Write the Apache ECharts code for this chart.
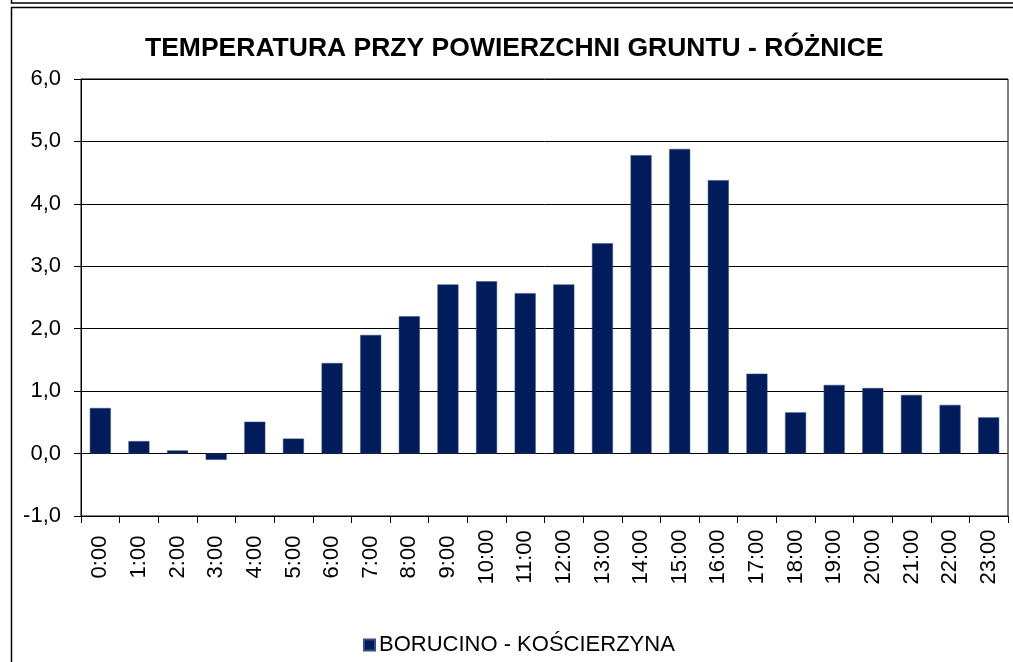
<!DOCTYPE html>
<html>
<head>
<meta charset="utf-8">
<script src="https://cdn.jsdelivr.net/npm/echarts@6/dist/echarts.min.js"></script>
<style>html,body{margin:0;padding:0;background:#fff;}#c{width:1013px;height:662px;}</style>
</head>
<body>
<div id="c"></div>
<script>
const categories = ['0:00','1:00','2:00','3:00','4:00','5:00','6:00','7:00','8:00','9:00','10:00','11:00','12:00','13:00','14:00','15:00','16:00','17:00','18:00','19:00','20:00','21:00','22:00','23:00'];
const values = [0.73, 0.20, 0.05, -0.10, 0.51, 0.24, 1.45, 1.90, 2.20, 2.71, 2.76, 2.57, 2.71, 3.37, 4.78, 4.88, 4.38, 1.28, 0.66, 1.10, 1.05, 0.94, 0.78, 0.58];
const seriesName = 'BORUCINO - KOŚCIERZYNA';
const titleText = 'TEMPERATURA PRZY POWIERZCHNI GRUNTU - RÓŻNICE';

const chart = echarts.init(document.getElementById('c'), null, {renderer: 'canvas'});
const font = 'Arial, "Liberation Sans", sans-serif';
chart.setOption({
  animation: false,
  backgroundColor: '#fff',
  title: {
    text: titleText,
    left: 140,
    top: 30,
    textStyle: {fontFamily: font, fontSize: 26.5, fontWeight: 'bold', color: '#000'}
  },
  legend: {
    data: [seriesName],
    left: 358,
    top: 629,
    itemWidth: 11,
    itemHeight: 11,
    itemGap: 0,
    icon: 'rect',
    textStyle: {fontFamily: font, fontSize: 22, color: '#000', padding: [0,0,0,-1]}
  },
  grid: {
    left: 81, right: 5, top: 79, bottom: 146,
    show: true, borderColor: '#000', borderWidth: 1, backgroundColor: 'transparent'
  },
  xAxis: {
    type: 'category',
    data: categories,
    boundaryGap: true,
    axisLine: {onZero: false, lineStyle: {color: '#000', width: 1}},
    axisTick: {show: true, length: 7, inside: false, alignWithLabel: false, lineStyle: {color: '#000'}},
    axisLabel: {
      rotate: 90, interval: 0, margin: 41, align: 'center', verticalAlign: 'middle',
      fontFamily: font, fontSize: 22, color: '#000'
    }
  },
  yAxis: {
    type: 'value',
    min: -1, max: 6, interval: 1,
    axisLine: {show: true, lineStyle: {color: '#000', width: 1}},
    axisTick: {show: true, length: 7, lineStyle: {color: '#000'}},
    splitLine: {show: true, lineStyle: {color: '#000', width: 1}},
    axisLabel: {
      margin: 20, fontFamily: font, fontSize: 22, color: '#000',
      formatter: v => v.toFixed(1).replace('.', ',')
    }
  },
  series: [{
    name: seriesName,
    type: 'bar',
    data: values,
    barWidth: 21,
    itemStyle: {color: '#001c5a', borderColor: '#3a4f80', borderWidth: 0.5}
  }],
  graphic: [
    {type: 'rect', shape: {x: 11.5, y: -10, width: 1010, height: 13}, style: {fill: 'none', stroke: '#000', lineWidth: 1.5}, silent: true},
    {type: 'rect', shape: {x: 11.5, y: 7.5, width: 1010, height: 700}, style: {fill: 'none', stroke: '#000', lineWidth: 1.5}, silent: true}
  ]
});
</script>
</body>
</html>
